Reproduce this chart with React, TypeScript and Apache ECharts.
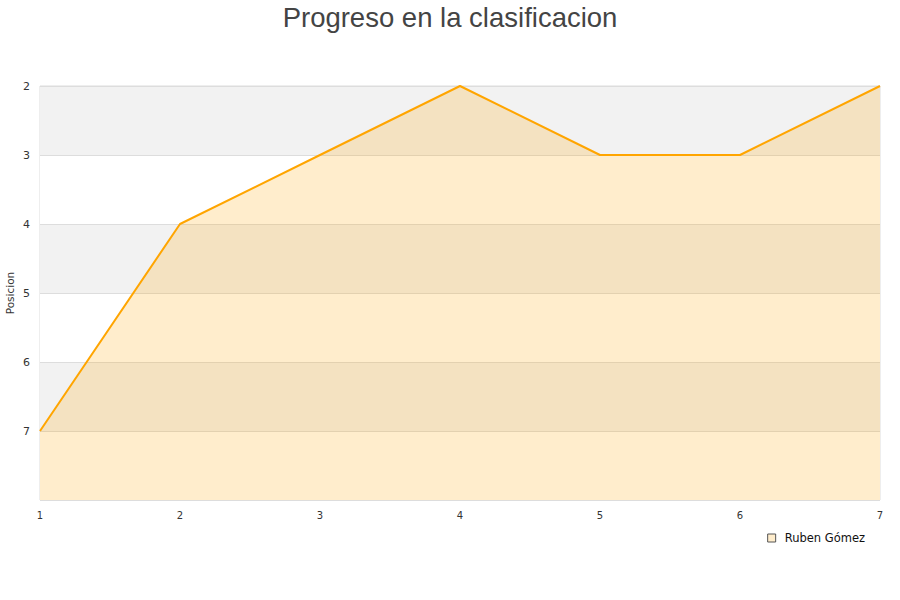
import React, { useEffect, useRef } from "react";
import * as echarts from "echarts";

const jornadas = ["1", "2", "3", "4", "5", "6", "7"];
const posiciones = [7, 4, 3, 2, 3, 3, 2];
const jugador = "Ruben Gómez";
const titulo = "Progreso en la clasificacion";

export default function App() {
  const ref = useRef<HTMLDivElement>(null);

  useEffect(() => {
    if (!ref.current) return;
    const chart = echarts.init(ref.current, undefined, { renderer: "svg" });
    chart.setOption({
      animation: false,
      backgroundColor: "#ffffff",
      textStyle: { fontFamily: "DejaVu Sans" },
      title: {
        text: titulo,
        left: "center",
        top: 0,
        padding: [3, 5, 5, 5],
        textStyle: {
          fontFamily: "Liberation Sans",
          fontSize: 27.5,
          fontWeight: "normal",
          color: "#444444",
        },
      },
      grid: {
        left: 40,
        right: 20,
        top: 86,
        bottom: 100,
        show: true,
        borderColor: "#dddddd",
        borderWidth: 1,
        containLabel: false,
        outerBoundsMode: "none",
      },
      legend: {
        right: 27,
        top: 530,
        itemWidth: 8,
        itemHeight: 8,
        itemGap: 10,
        icon: "rect",
        backgroundColor: "#ffffff",
        padding: [2, 8, 2, 8],
        textStyle: {
          fontSize: 11.5,
          color: "#111111",
          fontFamily: "DejaVu Sans",
          padding: [0, 0, 0, 4],
        },
        data: [
          {
            name: jugador,
            itemStyle: { color: "#ffedcc", borderColor: "#555555", borderWidth: 1 },
          },
        ],
      },
      xAxis: {
        type: "category",
        data: jornadas,
        boundaryGap: false,
        axisLine: { show: false },
        axisTick: { show: false },
        splitLine: { show: false },
        axisLabel: { color: "#333333", fontSize: 10, margin: 10 },
      },
      yAxis: {
        type: "value",
        inverse: true,
        min: 2,
        max: 8,
        interval: 1,
        name: "Posicion",
        nameLocation: "middle",
        nameGap: 25,
        nameMoveOverlap: false,
        nameTextStyle: { fontSize: 10.5, color: "#333333" },
        axisLine: { show: false },
        axisTick: { show: false },
        axisLabel: {
          color: "#333333",
          fontSize: 11,
          margin: 10,
          formatter: (v: number) => (v === 8 ? "" : String(v)),
        },
        splitLine: { show: true, lineStyle: { color: "#dddddd", width: 1 } },
        splitArea: {
          show: true,
          areaStyle: { color: ["#f2f2f2", "#ffffff"], opacity: 1 },
        },
      },
      series: [
        {
          name: jugador,
          type: "line",
          data: posiciones,
          showSymbol: false,
          symbol: "none",
          lineStyle: { color: "#ffa500", width: 2 },
          itemStyle: { color: "#ffa500" },
          areaStyle: { color: "rgba(255,165,0,0.2)", opacity: 1, origin: "end" },
        },
      ],
    });
    return () => chart.dispose();
  }, []);

  return (
    <div
      ref={ref}
      style={{ position: "fixed", left: 0, top: 0, width: 900, height: 600 }}
    />
  );
}
